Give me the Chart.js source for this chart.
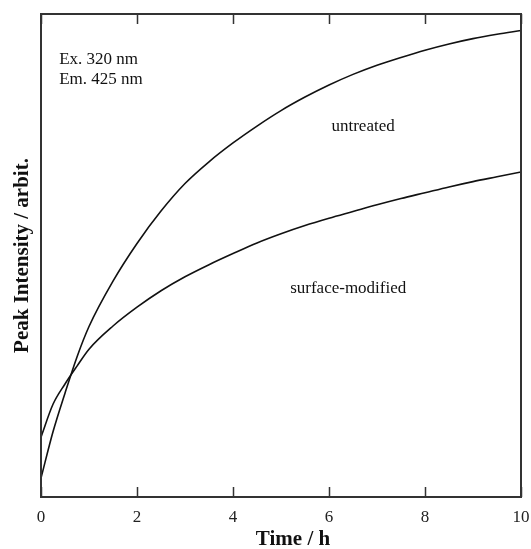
<!DOCTYPE html>
<html>
<head>
<meta charset="utf-8">
<script src="https://cdn.jsdelivr.net/npm/chart.js@4/dist/chart.umd.min.js"></script>
<style>
  html, body { margin: 0; padding: 0; background: #fff; }
  #wrap { width: 531px; height: 549px; }
</style>
</head>
<body>
<div id="wrap"><canvas id="c"></canvas></div>
<script>
// ── Data ────────────────────────────────────────────────────────────────────

const times = [0, 0.25, 0.5, 0.75, 1, 1.5, 2, 2.5, 3, 3.5, 4, 4.5, 5, 5.5, 6, 6.5, 7, 7.5, 8, 8.5, 9, 9.5, 10];

const untreated = [3.9, 13.5, 21.5, 29, 35.3, 44.7, 52.5, 59.2, 64.9, 69.4, 73.3, 76.8, 80.0, 82.8,
                   85.3, 87.5, 89.4, 91.0, 92.5, 93.8, 94.9, 95.8, 96.6];

const surfaceModified = [12.4, 19.2, 23.4, 27.1, 30.6, 35.4, 39.3, 42.7, 45.6, 48.1, 50.4, 52.6, 54.5, 56.2,
                         57.7, 59.1, 60.5, 61.8, 63.0, 64.2, 65.3, 66.3, 67.3];

const xTicks = [0, 2, 4, 6, 8, 10];

// annotation texts, anchored in data units
const notes = [
  { text: "Ex. 320 nm",       x: 0.38, y: 90.5, align: "left" },
  { text: "Em. 425 nm",       x: 0.38, y: 86.4, align: "left" },
  { text: "untreated",        x: 6.71, y: 76.6, align: "center" },
  { text: "surface-modified", x: 6.40, y: 43.2, align: "center" }
];

// ── Helpers ─────────────────────────────────────────────────────────────────

const SERIF = "'Liberation Serif', 'Times New Roman', serif";
const toPts = ys => times.map((t, i) => ({ x: t, y: ys[i] }));

// Frame, inward ticks, x title and text notes
const framePlugin = {
  id: "frame",
  afterDraw(chart) {
    const { ctx, chartArea: a, scales } = chart;
    ctx.save();
    ctx.strokeStyle = "#333";
    ctx.lineWidth = 2;
    ctx.strokeRect(a.left, a.top, a.right - a.left, a.bottom - a.top);

    // inward ticks on bottom and top
    ctx.lineWidth = 1.5;
    ctx.beginPath();
    xTicks.forEach(v => {
      const px = Math.round(scales.x.getPixelForValue(v)) + 0.5;
      ctx.moveTo(px, a.bottom); ctx.lineTo(px, a.bottom - 10);
      ctx.moveTo(px, a.top);    ctx.lineTo(px, a.top + 10);
    });
    ctx.stroke();

    ctx.fillStyle = "#111";
    ctx.font = "17px " + SERIF;
    ctx.textBaseline = "middle";
    notes.forEach(n => {
      ctx.textAlign = n.align;
      ctx.fillText(n.text, scales.x.getPixelForValue(n.x), scales.y.getPixelForValue(n.y));
    });

    // x title sits a little right of centre in the original
    ctx.font = "bold 21px " + SERIF;
    ctx.textAlign = "center";
    ctx.textBaseline = "alphabetic";
    ctx.fillText("Time / h", (a.left + a.right) / 2 + 12, chart.height - 4);
    ctx.restore();
  }
};

// ── Chart ───────────────────────────────────────────────────────────────────

const lineStyle = { borderColor: "#111", borderWidth: 1.6, pointRadius: 0, cubicInterpolationMode: "monotone", fill: false };

new Chart(document.getElementById("c"), {
  type: "line",
  data: {
    datasets: [
      { label: "untreated",        data: toPts(untreated),       ...lineStyle },
      { label: "surface-modified", data: toPts(surfaceModified), ...lineStyle }
    ]
  },
  options: {
    responsive: true,
    maintainAspectRatio: false,
    animation: false,
    layout: { padding: { top: 14, right: 0, left: 0, bottom: 0 } },
    plugins: { legend: { display: false }, tooltip: { enabled: false } },
    scales: {
      x: {
        type: "linear",
        min: 0, max: 10,
        afterBuildTicks: s => { s.ticks = xTicks.map(v => ({ value: v })); },
        // fixed axis height; keep only ~10px room on the right for the "10"
        afterFit: s => { s.height = 52; s.paddingRight = 10; s.paddingLeft = 0; },
        grid: { display: false, drawTicks: false },
        border: { display: false },
        ticks: { color: "#222", padding: 10, font: { family: SERIF, size: 17 } },
        title: { display: false }
      },
      y: {
        min: 0, max: 100,
        afterFit: s => { s.width = 41; },
        grid: { display: false, drawTicks: false },
        border: { display: false },
        ticks: { display: false },
        title: {
          display: true, text: "Peak Intensity / arbit.", color: "#111",
          padding: { top: 10, bottom: 0 },
          font: { family: SERIF, size: 21, weight: "bold" }
        }
      }
    }
  },
  plugins: [framePlugin]
});
</script>
</body>
</html>
